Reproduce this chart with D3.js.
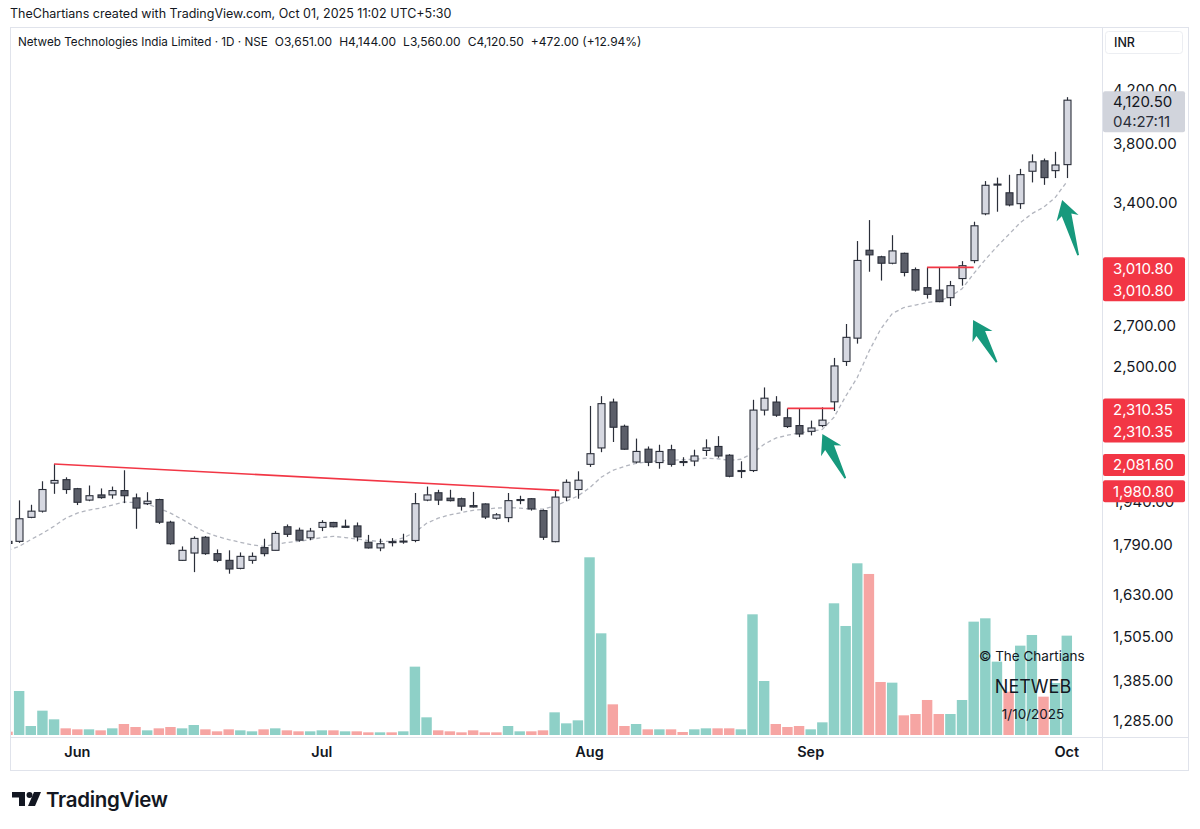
<!DOCTYPE html>
<html>
<head>
<meta charset="utf-8">
<script src="https://cdn.jsdelivr.net/npm/d3@7"></script>
<style>
  html, body { margin: 0; padding: 0; background: #fff; }
  svg { display: block; font-family: Inter, "Noto Sans", sans-serif; }
</style>
</head>
<body>
<svg id="chart" width="1200" height="829"></svg>
<script>
// trading days shown on the chart
const dates = [
  "2025-05-23","2025-05-26","2025-05-27","2025-05-28","2025-05-29","2025-05-30",
  "2025-06-02","2025-06-03","2025-06-04","2025-06-05","2025-06-06","2025-06-09","2025-06-10",
  "2025-06-11","2025-06-12","2025-06-13","2025-06-16","2025-06-17","2025-06-18","2025-06-19",
  "2025-06-20","2025-06-23","2025-06-24","2025-06-25","2025-06-26","2025-06-27","2025-06-30",
  "2025-07-01","2025-07-02","2025-07-03","2025-07-04","2025-07-07","2025-07-08","2025-07-09",
  "2025-07-10","2025-07-11","2025-07-14","2025-07-15","2025-07-16","2025-07-17","2025-07-18",
  "2025-07-21","2025-07-22","2025-07-23","2025-07-24","2025-07-25","2025-07-28","2025-07-29",
  "2025-07-30","2025-07-31",
  "2025-08-01","2025-08-04","2025-08-05","2025-08-06","2025-08-07","2025-08-08","2025-08-11",
  "2025-08-12","2025-08-13","2025-08-14","2025-08-18","2025-08-19","2025-08-20","2025-08-21",
  "2025-08-22","2025-08-25","2025-08-26","2025-08-28","2025-08-29",
  "2025-09-01","2025-09-02","2025-09-03","2025-09-04","2025-09-05","2025-09-08","2025-09-09",
  "2025-09-10","2025-09-11","2025-09-12","2025-09-15","2025-09-16","2025-09-17","2025-09-18",
  "2025-09-19","2025-09-22","2025-09-23","2025-09-24","2025-09-25","2025-09-26","2025-09-29",
  "2025-09-30","2025-10-01"
];

const open = [
  1800,1800,1883,1905,2008,2021,1987,1945,1964,1964,
  1980,1953,1932,1947,1866,1737,1761,1814,1759,1737,
  1711,1737,1779,1770,1850,1838,1812,1848,1865,1852,
  1853,1797,1778,1799,1799,1803,1945,1972,1952,1950,
  1925,1931,1880,1882,1945,1950,1907,1799,1956,1984,
  2080,2145,2338,2234,2089,2140,2087,2138,2091,2093,
  2135,2151,2116,2053,2056,2303,2338,2270,2237,2213,
  2237,2339,2523,2636,3109,3071,3034,3091,2998,2898,
  2885,2844,2948,3049,3329,3517,3463,3393,3606,3677,
  3610,3651
];
const high = [
  1808,1944,1928,2015,2081.6,2030,1990,1999,1988,1995,
  2057,1969,1974,1950,1871,1783,1817,1818,1773,1770,
  1763,1763,1809,1835,1858,1847,1846,1873,1867,1875,
  1865,1822,1809,1811,1826,1971,1995,1983,1983,1954,
  1975,1933,1898,1971,1961,1952,1911,1980.8,2022,2053,
  2321,2364,2353,2241,2183,2151,2158,2158,2108,2138,
  2180,2193,2120,2092,2348,2403,2364,2310.35,2310.35,2258,
  2315,2540,2707,3163,3290,3077,3198,3095,3010,3010.8,
  3010.8,2935,3046,3280,3540,3563,3582,3622,3722,3693,
  3740,4144
];
const low = [
  1788,1795,1880,1900,1968,1968,1927,1941,1950,1950,
  1934,1843,1927,1860,1789,1735,1699,1755,1731,1694,
  1708,1726,1750,1770,1815,1799,1804,1835,1848,1846,
  1800,1776,1767,1783,1792,1797,1941,1927,1940,1907,
  1918,1877,1875,1866,1930,1907,1805,1797,1941,1950,
  2070,2128,2169,2138,2084,2073,2063,2071,2073,2073,
  2113,2106,2030,2027,2050,2280,2274,2227,2189,2196,
  2230,2299,2502,2609,2986,2937,3028,2960,2877,2839,
  2820,2800,2909,3034,3320,3342,3376,3360,3531,3515,
  3560,3560
];
const close = [
  1793,1878,1905,1984,2018,1984,1937,1961,1954,1980,
  1961,1916,1941,1866,1792,1770,1810,1759,1737,1709,
  1750,1750,1759,1827,1824,1804,1835,1865,1850,1848,
  1815,1778,1792,1797,1801,1932,1964,1945,1943,1923,
  1920,1884,1892,1943,1947,1913,1814,1956,2011,2019,
  2122,2331,2230,2140,2131,2088,2131,2080,2088,2113,
  2145,2113,2034,2056,2303,2355,2281,2233,2202,2227,
  2260,2502,2640,3050,3082,3034,3105,2982,2885,2862,
  2823,2909,3020,3255,3512,3520,3385,3583,3670,3563,
  3648.5,4120.5
];

// volume, thousand shares
const volume = [
  100,1320,270,730,470,200,170,170,140,200,
  330,240,140,200,240,200,300,170,110,170,
  140,110,170,200,140,110,110,140,140,110,
  110,80,80,80,110,2050,530,140,110,80,
  140,80,80,270,110,110,140,680,350,440,
  5330,3050,920,270,330,170,170,170,90,170,
  200,200,200,170,3620,1620,330,240,270,170,
  380,3950,3270,5150,4830,1590,1570,590,630,1050,
  630,630,1050,3400,3500,2200,1300,2680,3000,1150,
  1560,2980
];
// 1 = teal (up) volume bar, 0 = red (down)
const volumeUp = [
  0,1,1,1,1,0,0,1,0,1,
  0,0,1,0,0,1,1,0,0,0,
  1,1,0,1,0,0,1,1,0,1,
  0,0,1,0,1,1,1,0,0,0,
  0,0,0,1,1,0,0,1,1,1,
  1,1,0,0,1,0,1,0,0,1,
  1,0,0,1,1,1,0,0,0,1,
  1,1,1,1,0,0,1,0,0,0,
  0,1,1,1,1,1,0,1,1,0,
  1,1
];

// dashed moving average
const ema = [
  1770,1783,1806,1827,1852,1880,1898,1909,1916,1927,
  1938,1936,1930,1916,1898,1876,1852,1831,1817,1806,
  1797,1788,1783,1790,1796,1800,1806,1813,1817,1813,
  1808,1803,1800,1800,1812,1831,1862,1880,1892,1900,
  1908,1912,1916,1918,1916,1912,1912,1923,1941,1960,
  1990,2030,2057,2072,2084,2090,2094,2096,2098,2100,
  2104,2102,2096,2100,2123,2160,2185,2197,2206,2213,
  2221,2272,2363,2448,2571,2680,2760,2792,2805,2818,
  2826,2850,2892,2975,3055,3130,3201,3274,3330,3370,
  3432,3535
];

// price scale ticks that show (3,000 and 2,300 sit fully under the labels)
const priceTicks = [4200, 3800, 3400, 2700, 2500, 2100, 1940, 1790, 1630, 1505, 1385, 1285];

// drawn trend / level lines: [startIndex, startPrice, endIndex, endPrice]
const redLines = [
  [4, 2081.6, 47.4, 1980.8],
  [67, 2310.35, 71, 2310.35],
  [79, 3010.8, 83, 3010.8]
];
// arrows: [tipIndex, tipPrice, tailIndex, tailPrice]
const arrows = [
  [70.0, 2202, 72.0, 2027],
  [82.95, 2727, 85.0, 2520],
  [90.6, 3416, 92.0, 3081]
];
// price-scale labels: [price, rows]
const redLabels = [[3010.8, 2], [2310.35, 2], [2081.6, 1], [1980.8, 1]];

const frameL = 10, frameR = 1188, frameT = 27, frameB = 770;
const axisX = 1102, timeY = 737;
const volBase = 735;

const svg = d3.select("#chart");
const ink = "#131722";

const x = d3.scaleLinear().domain([0, dates.length - 1]).range([7.5, 1066.8]);
const y = d3.scaleLog().domain([1285, 4200]).range([720.9, 90]);
const yVol = d3.scaleLinear().domain([0, d3.max(volume)]).range([volBase, volBase - 177.7]);

// top caption
svg.append("text")
    .attr("x", 10).attr("y", 18)
    .attr("font-size", 12.5).attr("fill", ink)
    .text("TheChartians created with TradingView.com, Oct 01, 2025 11:02 UTC+5:30");

// chart frame
svg.append("rect")
    .attr("x", frameL + 0.5).attr("y", frameT + 0.5)
    .attr("width", frameR - frameL).attr("height", frameB - frameT)
    .attr("fill", "#fff").attr("stroke", "#e0e3eb");

svg.append("defs").append("clipPath").attr("id", "plot")
  .append("rect").attr("x", frameL + 1).attr("y", frameT + 1)
    .attr("width", axisX - frameL - 1).attr("height", timeY - frameT - 1);

const plot = svg.append("g").attr("clip-path", "url(#plot)");

// volume
const bw = 11.64;
plot.append("g").selectAll("rect")
  .data(volume)
  .join("rect")
    .attr("x", (d, i) => x(i) - bw / 2 + 0.6)
    .attr("width", bw - 1.2)
    .attr("y", d => yVol(d))
    .attr("height", d => volBase - yVol(d))
    .attr("fill", (d, i) => volumeUp[i] ? "#8ed0c7" : "#f6a5a3");

// watermark
const wm = plot.append("g").attr("fill", ink);
wm.append("text").attr("x", 979).attr("y", 661).attr("font-size", 13.5).text("\u00A9 The Chartians");
wm.append("text").attr("x", 1033).attr("y", 693).attr("font-size", 18).attr("text-anchor", "middle").text("NETWEB");
wm.append("text").attr("x", 1033).attr("y", 719).attr("font-size", 13.5).attr("text-anchor", "middle").text("1/10/2025");

// moving average
plot.append("path")
    .datum(ema)
    .attr("fill", "none")
    .attr("stroke", "#b2b5be")
    .attr("stroke-width", 1.3)
    .attr("stroke-dasharray", "4,3")
    .attr("d", d3.line().x((d, i) => x(i)).y(d => y(d)));

// candles
const candles = plot.append("g").selectAll("g")
  .data(dates.map((d, i) => ({i, o: open[i], h: high[i], l: low[i], c: close[i]})))
  .join("g");

candles.append("line")
    .attr("x1", d => Math.round(x(d.i)) + 0.5).attr("x2", d => Math.round(x(d.i)) + 0.5)
    .attr("y1", d => y(d.h)).attr("y2", d => y(d.l))
    .attr("stroke", "#2a2e39").attr("stroke-width", 1.2);

candles.append("rect")
    .attr("x", d => Math.round(x(d.i)) - 3)
    .attr("width", 7)
    .attr("y", d => y(Math.max(d.o, d.c)))
    .attr("height", d => Math.max(1, y(Math.min(d.o, d.c)) - y(Math.max(d.o, d.c))))
    .attr("fill", d => d.c >= d.o ? "#d6d8e1" : "#5b5e69")
    .attr("stroke", "#2a2e39").attr("stroke-width", 1.1);

// red lines
plot.append("g").selectAll("line")
  .data(redLines)
  .join("line")
    .attr("x1", d => x(d[0])).attr("y1", d => y(d[1]))
    .attr("x2", d => x(d[2])).attr("y2", d => y(d[3]))
    .attr("stroke", "#f23645").attr("stroke-width", 1.6);

// green arrows
function arrowPath(d) {
  const x0 = x(d[0]), y0 = y(d[1]), x1 = x(d[2]), y1 = y(d[3]);
  const L = Math.hypot(x1 - x0, y1 - y0);
  const ux = (x1 - x0) / L, uy = (y1 - y0) / L;
  const px = -uy, py = ux;
  const pt = (a, b) => [x0 + ux * a + px * b, y0 + uy * a + py * b];
  const pts = [pt(0, 0), pt(19, 11.5), pt(15.5, 5), pt(L, 1.2), pt(L, -0.6), pt(15.5, -5), pt(19, -11.5)];
  return "M" + pts.map(p => p.join(",")).join("L") + "Z";
}
svg.append("g").selectAll("path")
  .data(arrows)
  .join("path")
    .attr("d", arrowPath)
    .attr("fill", "#17997d");

// axis borders
svg.append("line").attr("x1", axisX + 0.5).attr("x2", axisX + 0.5)
    .attr("y1", frameT).attr("y2", frameB).attr("stroke", "#e0e3eb");
svg.append("line").attr("x1", frameL).attr("x2", frameR)
    .attr("y1", timeY + 0.5).attr("y2", timeY + 0.5).attr("stroke", "#e0e3eb");

// price scale ticks
const fmt = d3.format(",.2f");
svg.append("g").selectAll("text")
  .data(priceTicks)
  .join("text")
    .attr("x", 1113).attr("y", d => y(d))
    .attr("dy", "0.36em")
    .attr("font-size", 15).attr("fill", ink)
    .text(d => fmt(d));

// current price label
const last = close[close.length - 1];
const cur = svg.append("g");
cur.append("rect")
    .attr("x", 1103).attr("y", y(last) - 9).attr("width", 82).attr("height", 41)
    .attr("rx", 2).attr("fill", "#d1d4dc");
cur.append("text").attr("x", 1113).attr("y", y(last) + 1).attr("dy", "0.36em")
    .attr("font-size", 15).attr("fill", ink).text(fmt(last));
cur.append("text").attr("x", 1113).attr("y", y(last) + 21).attr("dy", "0.36em")
    .attr("font-size", 15).attr("fill", "#2a2e39").text("04:27:11");

// red price labels
const rl = svg.append("g").selectAll("g").data(redLabels).join("g");
rl.append("rect")
    .attr("x", 1103).attr("y", d => y(d[0]) - 10)
    .attr("width", 82).attr("height", d => 22 * d[1])
    .attr("rx", 2).attr("fill", "#f23645");
rl.each(function(d) {
  for (let k = 0; k < d[1]; k++) {
    d3.select(this).append("text")
        .attr("x", 1113).attr("y", y(d[0]) + 1 + 22 * k).attr("dy", "0.36em")
        .attr("font-size", 15).attr("fill", "#fff")
        .text(fmt(d[0]));
  }
});

// legend line, parts laid out one after another
const lastO = open[open.length - 1], lastH = high[high.length - 1], lastL = low[low.length - 1];
const prev = close[close.length - 2];
const chg = last - prev;
const legendParts = [
  ["Netweb Technologies India Limited \u00B7 1D \u00B7 NSE", 11.7],
  ["O" + fmt(lastO), 12],
  ["H" + fmt(lastH), 12],
  ["L" + fmt(lastL), 12],
  ["C" + fmt(last), 12],
  ["+" + fmt(chg) + " (+" + d3.format(".2f")(chg / prev * 100) + "%)", 12]
];
const legend = svg.append("g").attr("fill", ink);
let lx = 18;
legendParts.forEach(([t, fs]) => {
  const node = legend.append("text").attr("x", lx).attr("y", 46).attr("font-size", fs).text(t).node();
  lx += node.getComputedTextLength() + 7;
});

// currency box
svg.append("rect").attr("x", 1105.5).attr("y", 31.5).attr("width", 77).attr("height", 22)
    .attr("rx", 3).attr("fill", "#fff").attr("stroke", "#eceef2");
svg.append("text").attr("x", 1114).attr("y", 47).attr("font-size", 12.5)
    .attr("font-weight", 500).attr("fill", ink).text("INR");

// month labels
const parse = d3.timeParse("%Y-%m-%d");
const days = dates.map(parse);
const monthIdx = d3.range(1, days.length).filter(i => days[i].getMonth() !== days[i - 1].getMonth());
svg.append("g").selectAll("text")
  .data(monthIdx)
  .join("text")
    .attr("x", i => x(i)).attr("y", 757)
    .attr("text-anchor", "middle")
    .attr("font-size", 14.5).attr("font-weight", 600).attr("fill", ink)
    .text(i => d3.timeFormat("%b")(days[i]));

// TradingView logo
const logo = svg.append("g").attr("fill", ink);
logo.append("path").attr("d", "M12,792 H25 V806 H19 V797.5 H12 Z");
logo.append("circle").attr("cx", 29.5).attr("cy", 795).attr("r", 3);
logo.append("path").attr("d", "M34,792 H41 L35,806 H28 Z");
logo.append("text").attr("x", 46).attr("y", 807)
    .attr("font-size", 20.5).attr("font-weight", 600).attr("letter-spacing", -0.3)
    .text("TradingView");
</script>
</body>
</html>
